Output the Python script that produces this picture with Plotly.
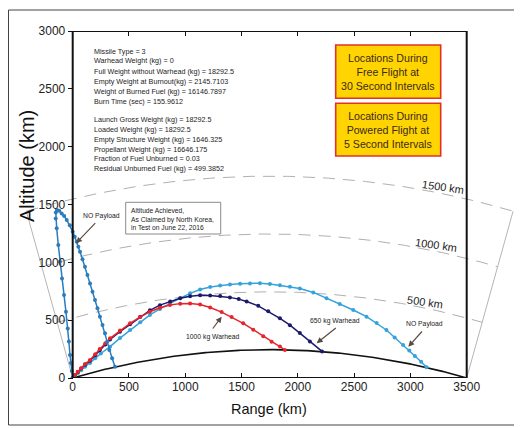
import numpy as np
import plotly.graph_objects as go

# ---------------- data ----------------
lofted_x = [0, -8, -16, -24, -34, -44, -60, -77, -95, -113, -128, -142, -151, -150, -140, -120,
            -98, -76, -53, -26, 0, 18, 36, 50, 65, 87, 109, 131, 154, 176, 198, 220, 242, 265,
            287, 306, 325, 350, 376]
lofted_y = [0, 60, 130, 199, 315, 429, 573, 717, 861, 1005, 1150, 1294, 1380, 1430, 1452, 1447,
            1423, 1400, 1366, 1320, 1265, 1222, 1178, 1135, 1092, 1027, 962, 890, 818, 746, 674,
            602, 530, 458, 386, 314, 242, 170, 98]

red_x = [0, 20, 45, 75, 110, 154, 200, 240, 290, 332, 420, 510, 600, 686, 775, 864, 955, 1043,
         1132, 1221, 1323, 1412, 1515, 1604, 1693, 1767, 1841, 1885]
red_y = [0, 25, 55, 85, 120, 156, 205, 250, 300, 343, 410, 473, 528, 573, 607, 631, 643, 645,
         636, 610, 570, 528, 473, 418, 362, 314, 272, 243]

navy_x = [0, 20, 45, 75, 110, 154, 200, 240, 290, 332, 420, 510, 600, 686, 775, 866, 955, 1043,
          1132, 1221, 1310, 1397, 1475, 1545, 1648, 1737, 1841, 1930, 2018, 2107, 2215]
navy_y = [0, 24, 52, 82, 115, 150, 196, 240, 290, 333, 400, 465, 530, 585, 630, 662, 690, 707,
          715, 714, 708, 697, 682, 662, 624, 577, 516, 457, 390, 316, 230]

mine_x = [0, 20, 45, 75, 110, 154, 200, 250, 332, 420, 510, 600, 686, 775, 864, 955, 1043, 1132,
          1221, 1310, 1397, 1487, 1575, 1663, 1752, 1841, 1930, 2018, 2137, 2255, 2372, 2492,
          2610, 2700, 2787, 2860, 2935, 2990, 3040, 3095, 3144]
mine_y = [0, 20, 42, 68, 97, 130, 170, 212, 271, 345, 415, 483, 545, 597, 645, 690, 732, 765,
          786, 800, 808, 815, 818, 820, 812, 801, 789, 773, 740, 689, 640, 588, 530, 475, 415,
          350, 285, 238, 190, 140, 92]

x_ticks = [0, 500, 1000, 1500, 2000, 2500, 3000, 3500]
y_ticks = [0, 500, 1000, 1500, 2000, 2500, 3000]

EARTH_RADIUS_KM = 6371.0
GROUND_RANGE_KM = 3500.0
ARC_ALTITUDES = [500, 1000, 1500]
ARC_LABELS = ["500 km", "1000 km", "1500 km"]

info_block_1 = ["Missile Type = 3", "Warhead Weight (kg) = 0",
                "Full Weight without Warhead (kg) = 18292.5",
                "Empty Weight at Burnout(kg) = 2145.7103",
                "Weight of Burned Fuel (kg) = 16146.7897",
                "Burn Time (sec) = 155.9612"]
info_block_2 = ["Launch Gross Weight (kg) = 18292.5", "Loaded Weight (kg) = 18292.5",
                "Empty Structure Weight (kg) = 1646.325", "Propellant Weight (kg) = 16646.175",
                "Fraction of Fuel Unburned = 0.03", "Residual Unburned Fuel (kg) = 499.3852"]

# ---------------- layout geometry ----------------
PAGE_OFF = 8                      # page body margin
FW, FH = 514, 420
L, T, W, H = 12, 23, 494, 347
X0PX, X1PX = 72.7, 466.7           # screenshot pixel of range 0 / 3500
kx = (X1PX - X0PX) / 3500.0
xmin = -(X0PX - PAGE_OFF - L) / kx
xmax = xmin + W / kx


def px(p):
    return (p - PAGE_OFF - L) / W


def py(p):
    return (T + H - (p - PAGE_OFF)) / H


FONT = "Liberation Sans, Arial, sans-serif"

# Earth geometry (reference arcs)
cx = GROUND_RANGE_KM / 2
cy = -np.sqrt(EARTH_RADIUS_KM ** 2 - cx ** 2)
theta = np.arcsin(cx / EARTH_RADIUS_KM)
phi = np.linspace(-theta, theta, 240)

fig = go.Figure()

# radial edge lines
for s in (-1, 1):
    r_end = EARTH_RADIUS_KM + ARC_ALTITUDES[-1]
    fig.add_trace(go.Scatter(
        x=[cx + EARTH_RADIUS_KM * np.sin(s * theta), cx + r_end * np.sin(s * theta)],
        y=[cy + EARTH_RADIUS_KM * np.cos(s * theta), cy + r_end * np.cos(s * theta)],
        mode="lines", line=dict(color="#b5b5b5", width=1), hoverinfo="skip", showlegend=False))

# dashed altitude arcs
for h in ARC_ALTITUDES:
    r = EARTH_RADIUS_KM + h
    fig.add_trace(go.Scatter(x=cx + r * np.sin(phi), y=cy + r * np.cos(phi), mode="lines",
                             line=dict(color="#b0b0b0", width=1, dash="12px,8px"),
                             hoverinfo="skip", showlegend=False))

# earth surface
fig.add_trace(go.Scatter(x=cx + EARTH_RADIUS_KM * np.sin(phi), y=cy + EARTH_RADIUS_KM * np.cos(phi),
                         mode="lines", line=dict(color="#111111", width=1.6), showlegend=False))

traces = [
    (mine_x, mine_y, "#35a2dc", "NO Payload (min energy)"),
    (navy_x, navy_y, "#1b1a6a", "650 kg Warhead"),
    (red_x, red_y, "#e5242b", "1000 kg Warhead"),
    (lofted_x, lofted_y, "#2a7cbc", "NO Payload (lofted)"),
]
for xs, ys, col, name in traces:
    fig.add_trace(go.Scatter(x=xs, y=ys, mode="lines+markers", name=name,
                             line=dict(color=col, width=1.5),
                             marker=dict(color=col, size=4), showlegend=False))

shapes = []
# outer frame
shapes.append(dict(type="rect", xref="paper", yref="paper", x0=px(8.5), x1=px(540), y0=py(425),
                   y1=py(10), line=dict(color="#444444", width=1), layer="below"))
# axes box
shapes.append(dict(type="rect", xref="x", yref="y", x0=0, x1=3500, y0=0, y1=3000,
                   line=dict(color="#111111", width=2)))
# yellow boxes
for (a, b) in [(45, 98.3), (103.3, 156)]:
    shapes.append(dict(type="rect", xref="paper", yref="paper", x0=px(335.7), x1=px(440.7),
                       y0=py(b), y1=py(a), fillcolor="#FFD400",
                       line=dict(color="#E3302A", width=1.6)))
# altitude achieved box
shapes.append(dict(type="rect", xref="paper", yref="paper", x0=px(125.7), x1=px(220.7),
                   y0=py(234), y1=py(202.3), fillcolor="white",
                   line=dict(color="#8a8a8a", width=1)))

ann = []
# info text block
for i, t in enumerate(info_block_1):
    ann.append(dict(x=px(92), y=py(51 + 10 * i), text=t))
for i, t in enumerate(info_block_2):
    ann.append(dict(x=px(92), y=py(120 + 9.7 * i), text=t))
for a in ann:
    a.update(xref="paper", yref="paper", xanchor="left", yanchor="middle", showarrow=False,
             font=dict(family=FONT, size=7.2, color="#222222"))


def add_text(x, y, text, size, color="#222222", angle=0, xanchor="center", align="center",
             family=FONT):
    ann.append(dict(x=px(x), y=py(y), xref="paper", yref="paper", showarrow=False,
                    xanchor=xanchor, yanchor="middle", align=align, text=text, textangle=angle,
                    font=dict(family=family, size=size, color=color)))


# yellow box texts
add_text(388, 72, "Locations During<br>Free Flight at<br>30 Second Intervals", 10.6, "#3a2a18")
add_text(388, 130, "Locations During<br>Powered Flight at<br>5 Second Intervals", 10.6, "#3a2a18")

# altitude achieved text
add_text(129, 218.5, "Altitude Achieved,<br>As Claimed by North Korea,<br>in Test on June 22, 2016",
         6.7, xanchor="left", align="left")

# curve labels
for t, (lx, ly) in [("NO Payload", (101.5, 216)), ("1000 kg Warhead", (213, 337)),
                    ("650 kg Warhead", (335, 321)), ("NO Payload", (424.7, 324))]:
    add_text(lx, ly, t, 6.8)

# arrows
for (hx, hy, tx, ty) in [(76, 243.3, 96.7, 221.7), (221.7, 316.7, 211.7, 330),
                         (316.7, 343.3, 337.3, 326.7), (408.3, 346.7, 423.3, 330)]:
    ann.append(dict(x=px(hx), y=py(hy), xref="paper", yref="paper", text="", showarrow=True,
                    ax=tx - hx, ay=ty - hy, arrowhead=2, arrowsize=1, arrowwidth=1.2,
                    arrowcolor="#5a4a44"))

# arc labels
for t, (lx, ly) in zip(ARC_LABELS, [(425, 301.7), (436, 245), (443, 186.7)]):
    add_text(lx, ly, t, 11, angle=8)

# axis titles
add_text(27, 166, "Altitude (km)", 20, "#111111", angle=-90)
add_text(269, 409, "Range (km)", 14.5, "#111111")

fig.update_layout(
    width=FW, height=FH, margin=dict(l=L, r=FW - L - W, t=T, b=FH - T - H),
    paper_bgcolor="white", plot_bgcolor="white", showlegend=False,
    shapes=shapes, annotations=ann,
    xaxis=dict(range=[xmin, xmax], tickvals=x_ticks, ticktext=[str(v) for v in x_ticks],
               ticks="inside", ticklen=5, tickwidth=1.2, tickcolor="#111111", mirror="ticks",
               showline=False, showgrid=False, zeroline=False,
               tickfont=dict(family=FONT, size=12, color="#222222")),
    yaxis=dict(range=[0, 3000], tickvals=y_ticks, ticktext=[str(v) for v in y_ticks],
               anchor="free", position=px(X0PX), ticks="outside", ticklen=5, tickwidth=1.2,
               tickcolor="#111111", showline=False, showgrid=False, zeroline=False,
               tickfont=dict(family=FONT, size=12, color="#222222")),
    yaxis2=dict(range=[0, 3000], tickvals=y_ticks, overlaying="y", side="right",
                anchor="free", position=px(X1PX), ticks="inside", ticklen=5, tickwidth=1.2,
                tickcolor="#111111", showticklabels=False, showline=False, showgrid=False,
                zeroline=False),
)

fig.write_html("out.html")
